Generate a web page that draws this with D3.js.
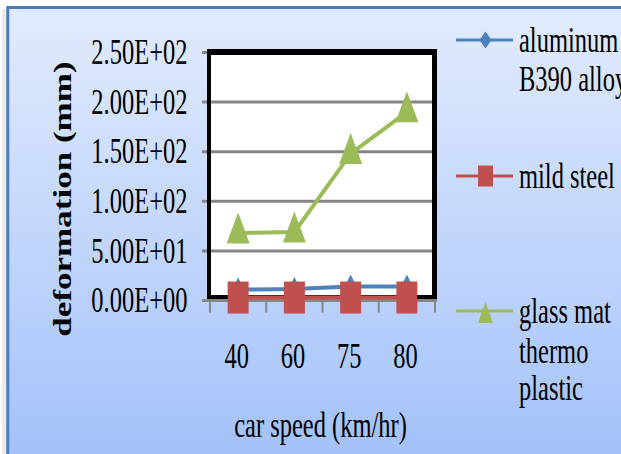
<!DOCTYPE html>
<html>
<head>
<meta charset="utf-8">
<script src="https://cdn.jsdelivr.net/npm/d3@7"></script>
<style>
  html, body { margin: 0; padding: 0; background: #ffffff; }
  svg { display: block; }
  text { font-family: "Liberation Serif", "Times New Roman", serif; fill: #000; }
</style>
</head>
<body>
<div id="chart"></div>
<script>
// Deformation vs. car speed for three bumper materials
const categories = ["40", "60", "75", "80"];
const aluminumB390 = [11, 11.5, 14, 14];
const mildSteel = [3, 3, 3, 3];
const glassMatThermoplastic = [68, 69, 148, 190];
const yTicks = [0, 50, 100, 150, 200, 250];
const seriesNames = [["aluminum", "B390 alloy"], ["mild steel"], ["glass mat", "thermo", "plastic"]];
const xTitle = "car speed (km/hr)";
const yTitle = "deformation (mm)";

const W = 621, H = 454;
const STRETCH = 1.43;       // text is drawn tall and narrow
const FONT = 24.5;

const svg = d3.select("#chart").append("svg")
  .attr("width", W).attr("height", H);

// ---- chart area background ----
const defs = svg.append("defs");
const grad = defs.append("linearGradient")
  .attr("id", "bg").attr("gradientUnits", "userSpaceOnUse")
  .attr("x1", 0).attr("y1", 9).attr("x2", 0).attr("y2", H);
grad.append("stop").attr("offset", 0).attr("stop-color", "#e1ebfd");
grad.append("stop").attr("offset", 0.6).attr("stop-color", "#bdd3fb");
grad.append("stop").attr("offset", 1).attr("stop-color", "#a3c1f9");

svg.append("rect").attr("x", 2).attr("y", 9).attr("width", 5).attr("height", H)
  .attr("fill", "#ebebeb");
svg.append("rect").attr("x", 7.8).attr("y", 7.5).attr("width", 700).attr("height", 600)
  .attr("fill", "url(#bg)").attr("stroke", "#4a7ebb").attr("stroke-width", 3);

// ---- scales ----
const x = d3.scaleBand().domain(categories).range([210, 435]);
const y = d3.scaleLinear().domain([0, 250]).range([300.5, 52.5]);
const cx = c => x(c) + x.bandwidth() / 2;

function stretchedText(parent, px, py, str, anchor, weight) {
  return parent.append("text")
    .attr("transform", `translate(${px},${py}) scale(1,${STRETCH})`)
    .attr("text-anchor", anchor || "start")
    .attr("font-size", FONT)
    .attr("font-weight", weight || "normal")
    .text(str);
}

// ---- plot area ----
const plot = svg.append("g");
plot.append("rect")
  .attr("x", 209).attr("y", 52)
  .attr("width", 434.5 - 209).attr("height", 297 - 52)
  .attr("fill", "#ffffff");

// horizontal gridlines with their left tick stubs
plot.selectAll("line.grid").data(yTicks).join("line")
  .attr("class", "grid")
  .attr("x1", 202).attr("x2", 433)
  .attr("y1", d => y(d)).attr("y2", d => y(d))
  .attr("stroke", "#868686").attr("stroke-width", 3);

// black plot frame
const frame = [
  { x1: 207, y1: 52, x2: 437, y2: 52, w: 6 },
  { x1: 207, y1: 297, x2: 437, y2: 297, w: 4 },
  { x1: 209, y1: 49, x2: 209, y2: 299, w: 4 },
  { x1: 434.5, y1: 49, x2: 434.5, y2: 299, w: 5 }
];
plot.selectAll("line.frame").data(frame).join("line")
  .attr("class", "frame")
  .attr("x1", d => d.x1).attr("y1", d => d.y1)
  .attr("x2", d => d.x2).attr("y2", d => d.y2)
  .attr("stroke", "#000").attr("stroke-width", d => d.w);

// category axis line and boundary ticks
plot.append("line")
  .attr("x1", 202).attr("x2", 437)
  .attr("y1", y(0)).attr("y2", y(0))
  .attr("stroke", "#868686").attr("stroke-width", 3);
const boundaries = categories.map(c => x(c)).concat([x.range()[1]]);
plot.selectAll("line.xtick").data(boundaries).join("line")
  .attr("class", "xtick")
  .attr("x1", d => d).attr("x2", d => d)
  .attr("y1", y(0)).attr("y2", y(0) + 12)
  .attr("stroke", "#868686").attr("stroke-width", 2);

// ---- marker shapes (width, height in px) ----
const diamond = (w, h) => ({ draw(ctx) {
  ctx.moveTo(0, -h / 2); ctx.lineTo(w / 2, 0); ctx.lineTo(0, h / 2); ctx.lineTo(-w / 2, 0); ctx.closePath();
}});
const square = (w, h) => ({ draw(ctx) { ctx.rect(-w / 2, -h / 2, w, h); } });
const triangle = (w, h, centroid) => ({ draw(ctx) {
  const top = centroid ? -2 * h / 3 : -h / 2;
  ctx.moveTo(0, top); ctx.lineTo(w / 2, top + h); ctx.lineTo(-w / 2, top + h); ctx.closePath();
}});

const series = [
  { values: aluminumB390, color: "#4f81bd", shape: diamond(12, 24), legendShape: diamond(12, 17) },
  { values: mildSteel, color: "#c0504d", shape: square(21, 32), legendShape: square(15, 21) },
  { values: glassMatThermoplastic, color: "#9bbb59", shape: triangle(23, 31, true), legendShape: triangle(15, 21, false) }
];

const line = d3.line().x(d => cx(d.c)).y(d => y(d.v));

series.forEach(s => {
  const pts = categories.map((c, i) => ({ c, v: s.values[i] }));
  const g = plot.append("g");
  g.append("path").datum(pts)
    .attr("d", line)
    .attr("fill", "none").attr("stroke", s.color)
    .attr("stroke-width", 4).attr("stroke-linejoin", "round");
  g.selectAll("path.marker").data(pts).join("path")
    .attr("class", "marker")
    .attr("transform", d => `translate(${cx(d.c)},${y(d.v)})`)
    .attr("d", d3.symbol().type(s.shape))
    .attr("fill", s.color);
});

// ---- axis labels ----
const sci = v => {
  const [m, e] = v.toExponential(2).split("e");
  const n = Math.abs(+e);
  return `${m.toUpperCase()}E${+e < 0 ? "-" : "+"}${n < 10 ? "0" + n : n}`;
};
yTicks.forEach(v => stretchedText(svg, 187.5, y(v) + 11.7, sci(v), "end"));
categories.forEach(c => stretchedText(svg, cx(c) - 1.5, 368, c, "middle"));
stretchedText(svg, 320.5, 437, xTitle, "middle");
svg.append("text")
  .attr("transform", `translate(71,199) scale(1,${STRETCH}) rotate(-90)`)
  .attr("text-anchor", "middle")
  .attr("font-size", FONT)
  .attr("font-weight", "bold")
  .text(yTitle);

// ---- legend ----
const legendRows = [
  { lineY: 40, baselines: [51.7, 90.7] },
  { lineY: 176, baselines: [187.7] },
  { lineY: 311, baselines: [323.3, 362.7, 400] }
];
legendRows.forEach((row, i) => {
  const s = series[i];
  svg.append("line")
    .attr("x1", 456).attr("x2", 513)
    .attr("y1", row.lineY).attr("y2", row.lineY)
    .attr("stroke", s.color).attr("stroke-width", 3);
  svg.append("path")
    .attr("transform", `translate(485.5,${row.lineY + (i === 2 ? 1.5 : 0)})`)
    .attr("d", d3.symbol().type(s.legendShape))
    .attr("fill", s.color);
  seriesNames[i].forEach((txt, k) => stretchedText(svg, 519, row.baselines[k], txt, "start"));
});
</script>
</body>
</html>
